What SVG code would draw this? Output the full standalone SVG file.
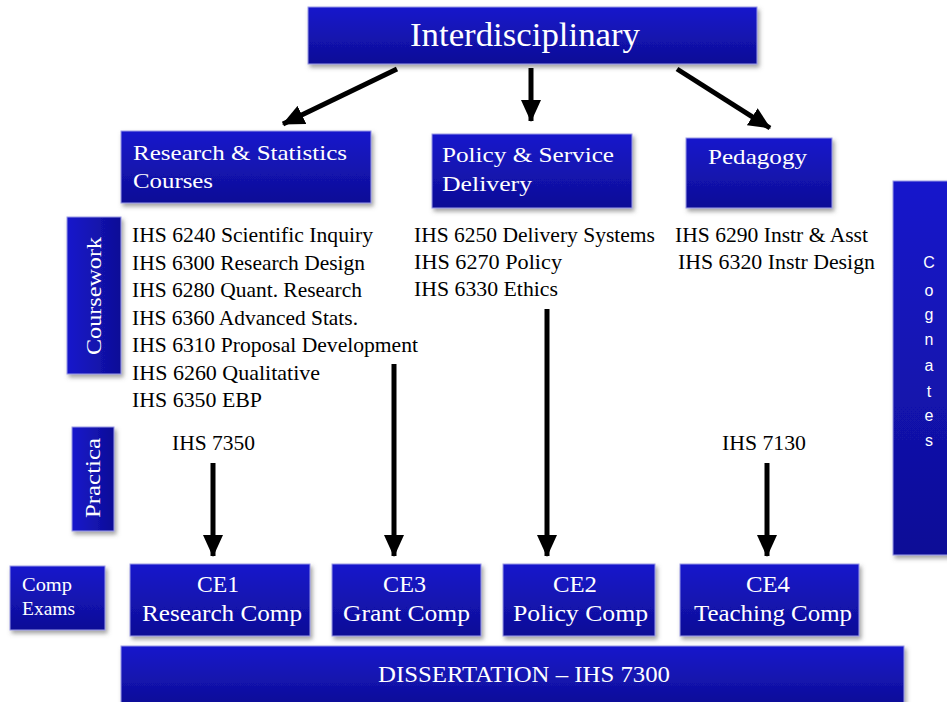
<svg xmlns="http://www.w3.org/2000/svg" width="947" height="702" viewBox="0 0 947 702">
  <defs>
    <linearGradient id="boxFill" x1="0" y1="0" x2="0" y2="1">
      <stop offset="0" stop-color="#1818cc"/>
      <stop offset="1" stop-color="#0e0e96"/>
    </linearGradient>
    <linearGradient id="boxFillH" x1="0" y1="0" x2="1" y2="0">
      <stop offset="0" stop-color="#1818cc"/>
      <stop offset="1" stop-color="#0e0e96"/>
    </linearGradient>
    <filter id="shadow" x="-10%" y="-10%" width="130%" height="130%">
      <feDropShadow dx="2" dy="3" stdDeviation="2" flood-color="#555" flood-opacity="0.55"/>
    </filter>
    <marker id="head" viewBox="0 0 22 20" refX="21" refY="10" markerWidth="22" markerHeight="20" markerUnits="userSpaceOnUse" orient="auto">
      <path d="M0,0 L22,10 L0,20 Z" fill="#000"/>
    </marker>
  </defs>
  <style>
    .box { fill: url(#boxFill); stroke: #9a9ae6; stroke-width: 1; filter: url(#shadow); }
    .vbox { fill: url(#boxFillH); stroke: #9a9ae6; stroke-width: 1; filter: url(#shadow); }
    .w { fill: #ffffff; font-family: "Liberation Serif", "Times New Roman", serif; }
    .k { fill: #000000; font-family: "Liberation Serif", "Times New Roman", serif; font-size: 21px; }
    .mid { text-anchor: middle; }
    .arrow { stroke: #000; stroke-width: 5; fill: none; marker-end: url(#head); }
  </style>

  <!-- top level -->
  <g id="interdisciplinary">
    <rect class="box" x="308" y="7" width="449" height="57"/>
    <text class="w" x="410" y="46" font-size="34" textLength="230" lengthAdjust="spacingAndGlyphs">Interdisciplinary</text>
  </g>

  <!-- track headers -->
  <g id="research">
    <rect class="box" x="121" y="131" width="250" height="72"/>
    <text class="w" x="133" y="160" font-size="22" textLength="214" lengthAdjust="spacingAndGlyphs">Research &amp; Statistics</text>
    <text class="w" x="133" y="188" font-size="22" textLength="80" lengthAdjust="spacingAndGlyphs">Courses</text>
  </g>
  <g id="policy">
    <rect class="box" x="432" y="134" width="200" height="74"/>
    <text class="w" x="442" y="162" font-size="22" textLength="172" lengthAdjust="spacingAndGlyphs">Policy &amp; Service</text>
    <text class="w" x="442" y="191" font-size="22" textLength="90" lengthAdjust="spacingAndGlyphs">Delivery</text>
  </g>
  <g id="pedagogy">
    <rect class="box" x="686" y="138" width="146" height="70"/>
    <text class="w" x="708" y="164" font-size="22" textLength="99" lengthAdjust="spacingAndGlyphs">Pedagogy</text>
  </g>

  <!-- side labels -->
  <g id="coursework">
    <rect class="vbox" x="67" y="217" width="54" height="157"/>
    <text class="w mid" transform="translate(101,296) rotate(-90)" font-size="22" textLength="118" lengthAdjust="spacingAndGlyphs">Coursework</text>
  </g>
  <g id="practica">
    <rect class="vbox" x="72" y="427" width="42" height="104"/>
    <text class="w mid" transform="translate(100,478) rotate(-90)" font-size="22" textLength="80" lengthAdjust="spacingAndGlyphs">Practica</text>
  </g>
  <g id="cognates">
    <rect class="box" x="893" y="181" width="60" height="374"/>
    <g class="mid" font-family="'Liberation Sans', Arial, sans-serif" font-size="16" fill="#ffffff" text-anchor="middle">
      <text x="929" y="268">C</text>
      <text x="929" y="296">o</text>
      <text x="929" y="320">g</text>
      <text x="929" y="345">n</text>
      <text x="929" y="371">a</text>
      <text x="929" y="397">t</text>
      <text x="929" y="421">e</text>
      <text x="929" y="446">s</text>
    </g>
  </g>
  <g id="comp-exams">
    <rect class="box" x="10" y="566" width="95" height="64"/>
    <text class="w" x="22" y="591" font-size="18" textLength="50" lengthAdjust="spacingAndGlyphs">Comp</text>
    <text class="w" x="22" y="615" font-size="18" textLength="53" lengthAdjust="spacingAndGlyphs">Exams</text>
  </g>

  <!-- course lists -->
  <g id="research-courses">
    <text class="k" x="132" y="242" textLength="241" lengthAdjust="spacingAndGlyphs">IHS 6240 Scientific Inquiry</text>
    <text class="k" x="132" y="270" textLength="233" lengthAdjust="spacingAndGlyphs">IHS 6300 Research Design</text>
    <text class="k" x="132" y="297" textLength="230" lengthAdjust="spacingAndGlyphs">IHS 6280 Quant. Research</text>
    <text class="k" x="132" y="325" textLength="226" lengthAdjust="spacingAndGlyphs">IHS 6360 Advanced Stats.</text>
    <text class="k" x="132" y="352" textLength="286" lengthAdjust="spacingAndGlyphs">IHS 6310 Proposal Development</text>
    <text class="k" x="132" y="380" textLength="188" lengthAdjust="spacingAndGlyphs">IHS 6260 Qualitative</text>
    <text class="k" x="132" y="407" textLength="130" lengthAdjust="spacingAndGlyphs">IHS 6350 EBP</text>
  </g>
  <g id="policy-courses">
    <text class="k" x="414" y="242" textLength="241" lengthAdjust="spacingAndGlyphs">IHS 6250 Delivery Systems</text>
    <text class="k" x="414" y="269" textLength="148" lengthAdjust="spacingAndGlyphs">IHS 6270 Policy</text>
    <text class="k" x="414" y="296" textLength="144" lengthAdjust="spacingAndGlyphs">IHS 6330 Ethics</text>
  </g>
  <g id="pedagogy-courses">
    <text class="k" x="675" y="242" textLength="193" lengthAdjust="spacingAndGlyphs">IHS 6290 Instr &amp; Asst</text>
    <text class="k" x="678" y="269" textLength="197" lengthAdjust="spacingAndGlyphs">IHS 6320 Instr Design</text>
  </g>
  <g id="practica-courses">
    <text class="k" x="172" y="450" textLength="83" lengthAdjust="spacingAndGlyphs">IHS 7350</text>
    <text class="k" x="722" y="450" textLength="84" lengthAdjust="spacingAndGlyphs">IHS 7130</text>
  </g>

  <!-- comprehensive exams -->
  <g id="ce1">
    <rect class="box" x="130" y="564" width="180" height="72"/>
    <text class="w" x="197" y="592" font-size="24" textLength="42" lengthAdjust="spacingAndGlyphs">CE1</text>
    <text class="w" x="142" y="621" font-size="24" textLength="160" lengthAdjust="spacingAndGlyphs">Research Comp</text>
  </g>
  <g id="ce3">
    <rect class="box" x="332" y="564" width="149" height="72"/>
    <text class="w" x="383" y="592" font-size="24" textLength="43" lengthAdjust="spacingAndGlyphs">CE3</text>
    <text class="w" x="343" y="621" font-size="24" textLength="127" lengthAdjust="spacingAndGlyphs">Grant Comp</text>
  </g>
  <g id="ce2">
    <rect class="box" x="503" y="564" width="152" height="72"/>
    <text class="w" x="553" y="592" font-size="24" textLength="44" lengthAdjust="spacingAndGlyphs">CE2</text>
    <text class="w" x="513" y="621" font-size="24" textLength="135" lengthAdjust="spacingAndGlyphs">Policy Comp</text>
  </g>
  <g id="ce4">
    <rect class="box" x="680" y="564" width="179" height="72"/>
    <text class="w" x="746" y="592" font-size="24" textLength="44" lengthAdjust="spacingAndGlyphs">CE4</text>
    <text class="w" x="694" y="621" font-size="24" textLength="158" lengthAdjust="spacingAndGlyphs">Teaching Comp</text>
  </g>
  <g id="dissertation">
    <rect class="box" x="121" y="646" width="783" height="60"/>
    <text class="w" x="378" y="682" font-size="24" textLength="292" lengthAdjust="spacingAndGlyphs">DISSERTATION – IHS 7300</text>
  </g>

  <!-- connectors -->
  <g id="connectors">
    <line class="arrow" x1="397" y1="69" x2="283" y2="124"/>
    <line class="arrow" x1="531" y1="68" x2="531" y2="121"/>
    <line class="arrow" x1="677" y1="69" x2="770" y2="128"/>
    <line class="arrow" x1="213" y1="463" x2="213" y2="556"/>
    <line class="arrow" x1="394" y1="364" x2="394" y2="556"/>
    <line class="arrow" x1="547" y1="309" x2="547" y2="556"/>
    <line class="arrow" x1="767" y1="463" x2="767" y2="556"/>
  </g>
</svg>
